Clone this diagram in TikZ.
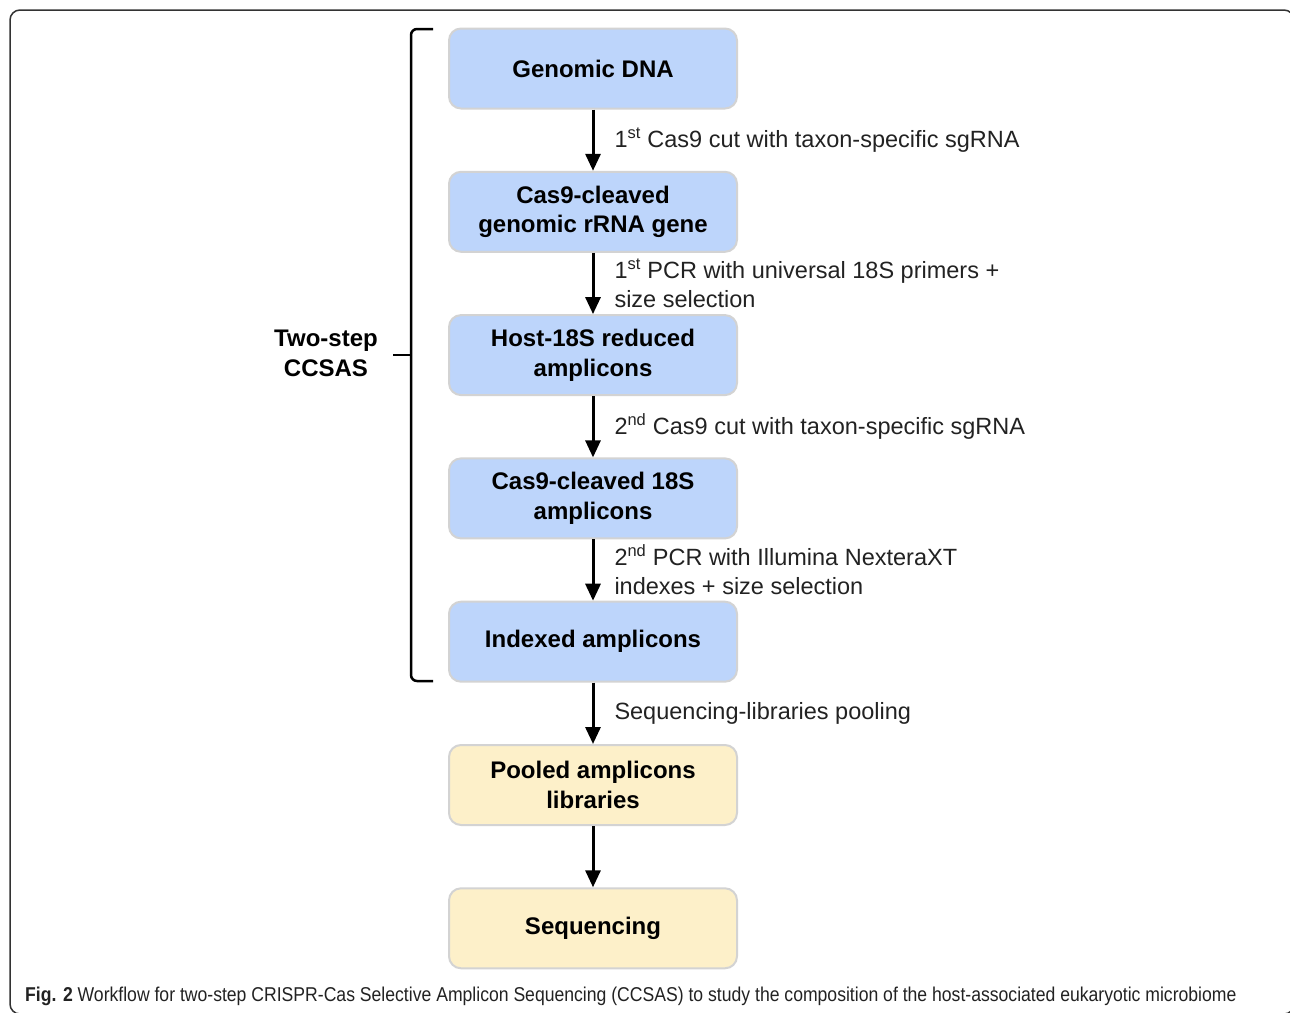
\documentclass[tikz,border=0pt]{standalone}
\usepackage{fontspec}
\setmainfont{Liberation Sans}
\newfontfamily\capfont[FakeStretch=0.88]{Liberation Sans}
\usetikzlibrary{arrows.meta,positioning}
\definecolor{stepblue}{HTML}{BDD5FB}
\definecolor{stepyellow}{HTML}{FDF0C9}
\definecolor{stepline}{HTML}{D3D3D3}
\definecolor{textgrey}{HTML}{222222}

\begin{document}
\begin{tikzpicture}[x=1pt, y=-1pt, node distance=143.3pt,
    stepbox/.style={rectangle, rounded corners=12pt, draw=stepline, line width=2pt, fill=stepblue, minimum width=288pt, minimum height=80pt, align=center, font=\fontsize{24}{29.5}\selectfont\bfseries},
    poolbox/.style={stepbox, fill=stepyellow},
    flow/.style={-{Triangle[width=15pt,length=17pt]}, line width=3pt},
    steplabel/.style={anchor=west, xshift=20pt, inner sep=0pt, align=left, font=\fontsize{23.5}{29}\selectfont, text=textgrey},
    brace/.style={line width=2.5pt, rounded corners=6pt},
    frame/.style={line width=1.5pt, draw=black!80, rounded corners=10pt}]

                  \useasboundingbox (0,0) rectangle (1290,1012);
                  \draw[frame] (10,10) rectangle (1294,1014);

                  \node[stepbox] (gdna) at (593,68.5) {Genomic DNA};
                  \node[stepbox, below of=gdna] (cleaved) {Cas9-cleaved\\genomic rRNA gene};
                  \node[stepbox, below of=cleaved] (reduced) {Host-18S reduced\\amplicons};
                  \node[stepbox, below of=reduced] (cut18s) {Cas9-cleaved 18S\\amplicons};
                  \node[stepbox, below of=cut18s] (indexed) {Indexed amplicons};
                  \node[poolbox, below of=indexed] (pooled) {Pooled amplicons\\libraries};
                  \node[poolbox, below of=pooled] (seq) {Sequencing};

                  \draw[flow] (gdna) -- node[steplabel] {1\textsuperscript{st} Cas9 cut with taxon-specific sgRNA} (cleaved);
                  \draw[flow] (cleaved) -- node[steplabel] {1\textsuperscript{st} PCR with universal 18S primers +\\size selection} (reduced);
                  \draw[flow] (reduced) -- node[steplabel] {2\textsuperscript{nd} Cas9 cut with taxon-specific sgRNA} (cut18s);
                  \draw[flow] (cut18s) -- node[steplabel] {2\textsuperscript{nd} PCR with Illumina NexteraXT\\indexes + size selection} (indexed);
                  \draw[flow] (indexed) -- node[steplabel] {Sequencing-libraries pooling} (pooled);
                  \draw[flow] (pooled) -- (seq);

                  \draw[brace] (433,29) -- (411,29) -- (411,681) -- (433,681);
                  \draw[brace] (393,355) -- (411,355);
                  \node[align=center, font=\fontsize{24}{29.5}\selectfont\bfseries] (twostep) at (326,353.5) {Two-step\\CCSAS};

                  \node[anchor=base west, inner sep=0pt, font=\capfont\fontsize{20}{24}\selectfont, text=textgrey] (caption) at (25,1001) {\textbf{Fig. 2} Workflow for two-step CRISPR-Cas Selective Amplicon Sequencing (CCSAS) to study the composition of the host-associated eukaryotic microbiome};

            \end{tikzpicture}
\end{document}
